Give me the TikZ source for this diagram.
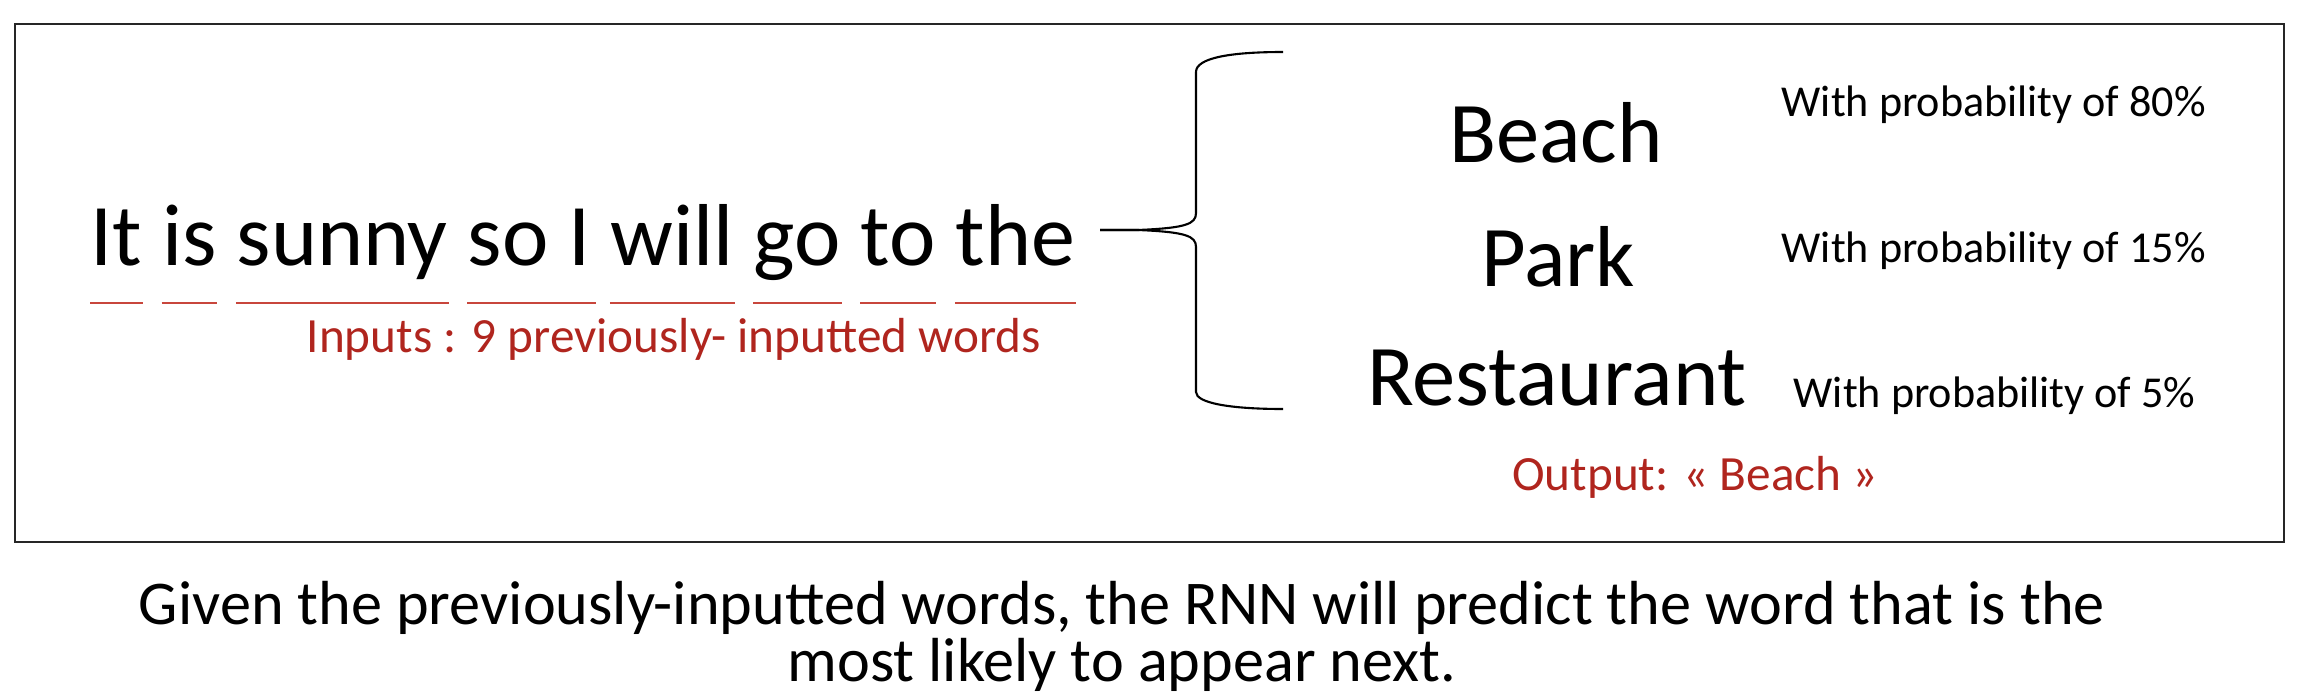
\documentclass[tikz,border=0pt]{standalone}
\usepackage{fontspec}
\setmainfont{Carlito}
\usetikzlibrary{positioning}

\definecolor{rdark}{HTML}{B0251E}
\definecolor{rline}{HTML}{C8463C}

\begin{document}
\begin{tikzpicture}[x=0.01cm,y=-0.01cm,node distance=0.185cm,
  word/.style={inner sep=0pt,text height=0.75em,text depth=0.25em,font=\fontsize{25}{30}\selectfont},
  choice/.style={inner sep=0pt,anchor=base,font=\fontsize{24.6}{30}\selectfont},
  prob/.style={inner sep=0pt,anchor=base west,font=\fontsize{12.55}{14}\selectfont},
  note/.style={inner sep=0pt,text=rdark,font=\fontsize{14}{17}\selectfont},
  uline/.style={rline,line width=0.5pt},
  brace/.style={line width=0.6pt}]
  \useasboundingbox (0,0) rectangle (2314,694);
  \draw[line width=0.8pt,black!85] (15,24) rectangle (2284,542);
  % the sentence, word by word
  \node[word,anchor=base west] (w1) at (90,265) {It};
  \node[word,right=of w1] (w2) {is};
  \node[word,right=of w2] (w3) {sunny};
  \node[word,right=of w3] (w4) {so};
  \node[word,right=of w4] (w5) {I};
  \node[word,right=of w5] (w6) {will};
  \node[word,right=of w6] (w7) {go};
  \node[word,right=of w7] (w8) {to};
  \node[word,right=of w8] (w9) {the};
  \draw[uline] ([yshift=-0.38cm]w1.base west) -- ([yshift=-0.38cm]w1.base east);
  \draw[uline] ([yshift=-0.38cm]w2.base west) -- ([yshift=-0.38cm]w2.base east);
  \draw[uline] ([yshift=-0.38cm]w3.base west) -- ([yshift=-0.38cm]w3.base east);
  \draw[uline] ([yshift=-0.38cm]w4.base west) -- ([yshift=-0.38cm]w4.base east);
  \draw[uline] ([yshift=-0.38cm,xshift=-0.25cm]w5.base west) -- ([yshift=-0.38cm,xshift=0.05cm]w5.base east);
  \draw[uline] ([yshift=-0.38cm]w6.base west) -- ([yshift=-0.38cm]w6.base east);
  \draw[uline] ([yshift=-0.38cm]w7.base west) -- ([yshift=-0.38cm]w7.base east);
  \draw[uline] ([yshift=-0.38cm]w8.base west) -- ([yshift=-0.38cm]w8.base east);
  \draw[uline] ([yshift=-0.38cm]w9.base west) -- ([yshift=-0.38cm]w9.base east);
  \node[note,anchor=base west] (inputs) at (306,352) {Inputs : 9 previously- inputted words};

  % brace
  \coordinate (tip) at (1100,230);
  \coordinate (top) at (1283,52);
  \coordinate (bot) at (1283,409);
  \draw[brace] (tip) -- (1138,230) .. controls (1186,228) and (1196,224) .. (1196,213) -- (1196,72) .. controls (1196,58) and (1230,52) .. (top);
  \draw[brace] (tip) -- (1138,230) .. controls (1186,232) and (1196,236) .. (1196,247) -- (1196,392) .. controls (1196,403) and (1230,409) .. (bot);

  % the candidates
  \node[choice] (beach) at (1556,162) {Beach};
  \node[choice] (park) at (1558,286) {Park};
  \node[choice] (rest) at (1557,405) {Restaurant};
  \node[prob] (p1) at (1781,116) {With probability of 80\%};
  \node[prob] (p2) at (1781,262) {With probability of 15\%};
  \node[prob] (p3) at (1793,407) {With probability of 5\%};
  \node[note,anchor=base] (output) at (1695,490) {Output: «~Beach~»};

  \node[inner sep=0pt,anchor=base,align=center,font=\fontsize{17.7}{14}\selectfont] (caption) at (1122,681)
    {Given the previously-inputted words, the RNN will predict the word that is the\\most likely to appear next.};
\end{tikzpicture}
\end{document}
